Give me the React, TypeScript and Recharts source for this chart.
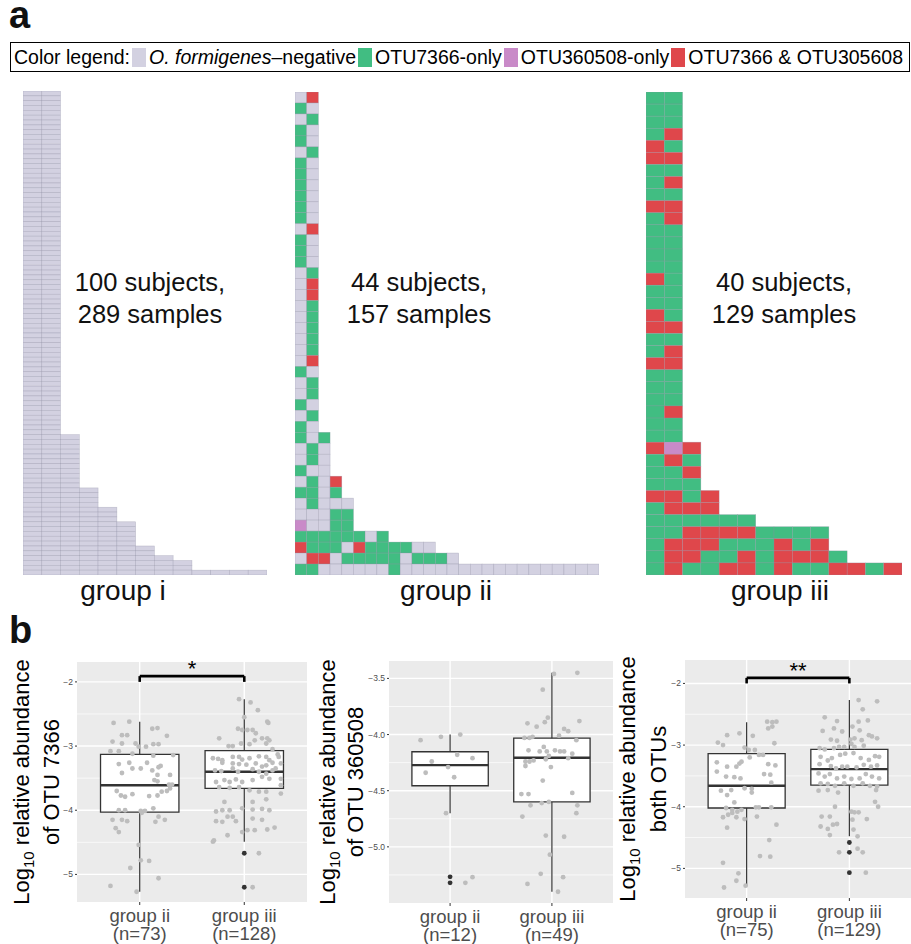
import React from 'react'
import {
  ScatterChart,
  ComposedChart,
  Scatter,
  XAxis,
  YAxis,
  CartesianGrid,
  ReferenceArea,
  ReferenceLine,
  Label,
} from 'recharts'

const FONT = '"Liberation Sans", Arial, Helvetica, sans-serif'

// ---------- panel a : sample status per subject (rows) and sample (columns)
// N = O. formigenes-negative, G = OTU7366-only, P = OTU360508-only, R = both
const CELL_COLORS: Record<string, string> = { N: '#d3d1e1', G: '#41bd82', P: '#c98ac8', R: '#df474b' }
const LEGEND_KEYS = ['N', 'G', 'P', 'R']
const LEGEND_LABELS = ['O. formigenes–negative', 'OTU7366-only', 'OTU360508-only', 'OTU7366 & OTU305608']

// group i: [samples per subject, number of subjects]
const GROUP_I_COUNTS = [[2, 71], [3, 11], [4, 4], [5, 3], [6, 5], [7, 2], [8, 1], [9, 2], [13, 1]]

const GROUP_II_ROWS = [
  'NR', 'GN', 'NG', 'GN', 'GN', 'NG', 'GN', 'GN', 'GN', 'GN', 'GN', 'GN', 'NR', 'GN', 'GN', 'GN',
  'NG', 'NR', 'NR', 'NG', 'NG', 'NG', 'NG', 'NG', 'NR', 'GN', 'NG', 'NG', 'GN', 'NG', 'GN',
  'GNG', 'NGN', 'NGN', 'GNN', 'NGNR', 'GGNG', 'NGNNN', 'NNNGG', 'PNNGG', 'GGGGGGNG',
  'RGGGNRGGGGNN', 'NRRNGGGGGNGGGN', 'GGNNNNNNGNNNNNNNNNNNNNNNNN',
]

const GROUP_III_ROWS = [
  'GG', 'GG', 'GG', 'GR', 'RG', 'RR', 'GG', 'GR', 'GG', 'RR', 'GR', 'GG', 'GG', 'GG', 'GG',
  'RG', 'GG', 'GG', 'RG', 'RR', 'GG', 'GR', 'RR', 'GG', 'GG', 'GG', 'GR', 'GG', 'GG',
  'RPR', 'GRG', 'GGR', 'GGG', 'RRGR', 'GRRR', 'GGGGGG', 'GGRRRRGGGG', 'GRRRGGGRGR',
  'GRRGGRGRRRG', 'GRGGRRGRGGRRGR',
]

const GROUP_NAMES = ['group i', 'group ii', 'group iii']
const GROUP_SUBJECTS = [100, 44, 40]
const GROUP_SAMPLES = [289, 157, 129]

// ---------- panel b : box statistics [min, q1, median, q3, max] for group ii / group iii
const BOX_1 = [[-5.27, -4.03, -3.61, -3.13, -2.62], [-4.49, -3.66, -3.40, -3.07, -2.27]]
const BOX_2 = [[-4.70, -4.456, -4.272, -4.153, -4.0], [-5.40, -4.60, -4.207, -4.032, -3.45]]
const BOX_3 = [[-5.29, -4.02, -3.66, -3.14, -2.63], [-4.48, -3.65, -3.39, -3.07, -2.27]]

// outliers: [group position, value]
const OUT_1 = [[2, -4.67], [2, -5.20]]
const OUT_2 = [[1, -5.267], [1, -5.32]]
const OUT_3 = [[2, -4.58], [2, -4.74], [2, -5.07]]

// jittered points: [x offset, value]
const P1_II = [
  [-0.25, -2.64], [-0.10, -2.62], [-0.17, -2.83], [-0.12, -2.83], [0.17, -2.72], [0.12, -2.73], [0.26, -2.84],
  [-0.26, -2.93], [-0.17, -2.96], [-0.04, -2.96], [0.13, -2.97], [0.18, -2.97], [-0.01, -3.01], [0.06, -3.01],
  [-0.28, -3.08], [-0.20, -3.08], [-0.07, -3.12], [0.32, -3.14], [0.13, -3.15], [-0.20, -3.28], [-0.10, -3.26],
  [0.07, -3.26], [0.20, -3.31], [0.18, -3.33], [-0.17, -3.42], [-0.07, -3.35], [0.01, -3.35], [0.12, -3.38],
  [0.17, -3.45], [0.29, -3.45], [0.14, -3.53], [0.17, -3.55], [0.28, -3.60], [0.31, -3.60], [-0.22, -3.70],
  [-0.18, -3.77], [-0.07, -3.75], [-0.14, -3.79], [0.09, -3.78], [0.17, -3.77], [0.26, -3.70], [0.21, -3.71],
  [0.29, -3.66], [-0.20, -4.00], [-0.14, -4.00], [0.01, -4.01], [0.02, -4.04], [0.05, -4.01], [0.13, -3.97],
  [-0.26, -4.15], [-0.17, -4.15], [-0.12, -4.17], [0.15, -4.18], [0.18, -4.10], [0.24, -4.15], [-0.23, -4.28],
  [-0.20, -4.34], [-0.01, -4.54], [0.01, -4.78], [0.09, -4.79], [-0.09, -4.90], [0.18, -5.06], [-0.28, -5.18],
  [-0.03, -5.27],
]
const P1_III = [
  [-0.05, -2.27], [0.06, -2.32], [0.13, -2.44], [0.00, -2.55], [-0.06, -2.73], [0.08, -2.75], [-0.02, -2.75],
  [0.03, -2.75], [0.11, -2.80], [0.22, -2.62], [0.23, -2.64], [0.22, -2.88], [0.24, -2.91], [-0.24, -2.88],
  [-0.15, -3.00], [-0.11, -3.00], [-0.03, -2.96], [0.05, -2.97], [0.10, -2.91], [0.17, -2.88], [0.21, -2.96],
  [0.27, -3.05], [-0.30, -3.19], [-0.25, -3.20], [-0.21, -3.22], [-0.11, -3.17], [-0.05, -3.17], [-0.02, -3.21],
  [0.05, -3.19], [0.14, -3.16], [0.21, -3.17], [0.24, -3.22], [0.32, -3.13], [0.33, -3.17], [-0.21, -3.26],
  [-0.11, -3.27], [-0.05, -3.28], [0.02, -3.29], [0.11, -3.27], [0.17, -3.32], [0.21, -3.30], [0.27, -3.26],
  [0.35, -3.27], [-0.28, -3.38], [-0.22, -3.39], [-0.11, -3.35], [-0.06, -3.40], [0.08, -3.36], [0.14, -3.40],
  [0.21, -3.43], [0.27, -3.38], [0.30, -3.35], [-0.27, -3.56], [-0.19, -3.53], [-0.14, -3.56], [-0.08, -3.52],
  [-0.02, -3.56], [0.08, -3.53], [0.17, -3.48], [0.24, -3.51], [0.35, -3.51], [0.35, -3.61], [-0.24, -3.64],
  [-0.14, -3.65], [-0.05, -3.64], [0.05, -3.69], [0.14, -3.71], [0.21, -3.71], [0.35, -3.74], [0.21, -3.83],
  [-0.19, -3.87], [0.08, -3.87], [-0.21, -4.00], [-0.14, -4.00], [-0.27, -4.02], [-0.02, -3.97], [0.08, -3.99],
  [0.17, -3.98], [0.24, -4.00], [-0.27, -4.17], [-0.21, -4.18], [-0.11, -4.10], [-0.08, -4.17], [0.08, -4.13],
  [0.17, -4.15], [-0.16, -4.10], [-0.29, -4.47], [-0.30, -4.49], [-0.16, -4.39], [-0.02, -4.34], [0.03, -4.31],
  [0.10, -4.31], [0.22, -4.30], [0.29, -4.27], [0.14, -4.67], [0.08, -5.20],
]
const P2_II = [
  [-0.29, -4.05], [-0.09, -4.02], [0.10, -4.00], [-0.18, -4.24], [0.07, -4.18], [0.22, -4.21],
  [-0.24, -4.34], [-0.02, -4.29], [0.04, -4.38], [-0.04, -4.70], [0.15, -5.32], [0.22, -5.27],
]
const P2_III = [
  [0.02, -3.46], [0.25, -3.45], [-0.09, -3.60], [-0.04, -3.85], [-0.07, -3.89], [-0.24, -3.90], [-0.15, -3.93],
  [0.27, -3.88], [0.12, -3.95], [0.16, -3.97], [0.07, -4.01], [-0.27, -4.03], [-0.22, -4.03], [-0.19, -4.02],
  [0.24, -4.05], [-0.23, -4.14], [-0.08, -4.11], [-0.12, -4.15], [-0.05, -4.15], [0.03, -4.14], [0.08, -4.15],
  [0.12, -4.15], [0.20, -4.17], [-0.03, -4.19], [-0.26, -4.24], [-0.22, -4.24], [-0.18, -4.23], [-0.06, -4.22],
  [0.16, -4.21], [-0.26, -4.28], [-0.01, -4.29], [-0.09, -4.41], [-0.30, -4.53], [-0.23, -4.53], [0.20, -4.52],
  [-0.21, -4.63], [-0.10, -4.61], [-0.03, -4.60], [0.25, -4.63], [-0.29, -4.73], [0.24, -4.70], [-0.06, -4.90],
  [0.12, -4.91], [-0.02, -5.07], [-0.11, -5.24], [0.11, -5.27], [-0.24, -5.33], [0.06, -5.40],
]
const P3_II = [
  [0.20, -2.62], [0.25, -2.63], [0.29, -2.62], [0.21, -2.73], [0.25, -2.70], [-0.07, -2.81], [-0.19, -2.84],
  [0.06, -2.85], [-0.28, -2.96], [-0.23, -3.00], [-0.02, -3.04], [0.02, -3.08], [0.08, -3.08], [0.27, -2.97],
  [-0.29, -3.28], [-0.19, -3.35], [-0.07, -3.30], [-0.05, -3.27], [0.03, -3.20], [0.12, -3.16], [0.16, -3.16],
  [0.21, -3.31], [0.28, -3.33], [-0.10, -3.35], [-0.29, -3.43], [-0.20, -3.51], [-0.12, -3.52], [-0.06, -3.54],
  [0.17, -3.47], [0.23, -3.48], [0.24, -3.61], [-0.25, -3.74], [-0.15, -3.73], [-0.02, -3.70], [0.05, -3.71],
  [-0.19, -3.81], [-0.12, -3.93], [0.05, -3.77], [-0.20, -4.02], [-0.14, -4.05], [-0.09, -4.08], [-0.05, -4.05],
  [0.09, -4.01], [0.12, -4.01], [0.24, -4.01], [-0.23, -4.17], [-0.18, -4.13], [-0.14, -4.10], [-0.10, -4.17],
  [-0.02, -4.20], [0.10, -4.16], [-0.19, -4.34], [0.29, -4.29], [0.22, -4.54], [0.13, -4.80], [0.23, -4.81],
  [-0.23, -4.91], [-0.08, -5.08], [-0.10, -5.20], [-0.01, -5.28], [-0.22, -5.31],
]
const P3_III = [
  [0.09, -2.27], [0.27, -2.29], [0.13, -2.42], [-0.24, -2.55], [-0.12, -2.61], [0.09, -2.62], [0.18, -2.60],
  [-0.26, -2.77], [-0.15, -2.73], [-0.07, -2.78], [0.03, -2.70], [0.10, -2.76], [0.19, -2.84], [0.22, -2.86],
  [0.27, -2.89], [-0.18, -2.91], [-0.12, -2.93], [0.01, -2.91], [0.05, -2.89], [0.12, -2.92], [-0.29, -3.05],
  [-0.24, -3.07], [-0.15, -3.05], [-0.10, -3.03], [-0.05, -3.03], [0.02, -2.98], [0.05, -3.03], [0.14, -3.01],
  [-0.29, -3.31], [-0.28, -3.19], [-0.21, -3.25], [-0.17, -3.21], [-0.09, -3.16], [-0.04, -3.14], [0.04, -3.13],
  [0.11, -3.21], [0.19, -3.24], [0.25, -3.18], [0.29, -3.19], [-0.18, -3.34], [-0.13, -3.38], [-0.07, -3.35],
  [-0.02, -3.35], [0.07, -3.36], [0.14, -3.32], [0.21, -3.35], [0.27, -3.33], [-0.30, -3.46], [-0.24, -3.51],
  [-0.19, -3.47], [-0.12, -3.54], [-0.05, -3.51], [0.02, -3.55], [0.10, -3.54], [0.16, -3.47], [0.22, -3.51],
  [0.29, -3.54], [-0.28, -3.62], [-0.21, -3.63], [-0.14, -3.66], [-0.05, -3.62], [0.04, -3.66], [0.13, -3.62],
  [0.20, -3.66], [0.27, -3.67], [-0.30, -3.74], [-0.21, -3.73], [-0.11, -3.77], [0.26, -3.73], [0.25, -3.92],
  [0.28, -4.00], [-0.14, -4.00], [-0.27, -4.16], [-0.19, -4.16], [0.02, -4.08], [0.05, -4.09], [0.09, -4.09],
  [0.17, -4.20], [0.03, -4.21], [-0.28, -4.32], [-0.21, -4.36], [-0.16, -4.29], [-0.12, -4.28], [-0.19, -4.46],
  [0.08, -4.48], [-0.10, -4.74], [0.08, -4.68], [0.13, -4.74], [0.16, -5.07], [0.04, -4.37],
]

const PANELS = [
  {
    left: 0, width: 310, yWidth: 77, top: 22, right: 3, xHeight: 42,
    domain: [-5.43, -1.69], major: [-2, -3, -4, -5], minor: [-2.5, -3.5, -4.5], decimals: 0,
    box: BOX_1, points: [P1_II, P1_III], outliers: OUT_1, stars: '*',
    title2: 'of OTU 7366', t1: 29, t2: 59,
    xLabels: [['group ii', '(n=73)'], ['group iii', '(n=128)']],
  },
  {
    left: 300, width: 315, yWidth: 89, top: 21, right: 2, xHeight: 41,
    domain: [-5.5, -3.345], major: [-3.5, -4, -4.5, -5], minor: [-3.75, -4.25, -4.75, -5.25], decimals: 1,
    box: BOX_2, points: [P2_II, P2_III], outliers: OUT_2, stars: '',
    title2: 'of OTU 360508', t1: 35, t2: 63,
    xLabels: [['group ii', '(n=12)'], ['group iii', '(n=49)']],
  },
  {
    left: 600, width: 311, yWidth: 85, top: 20, right: 0, xHeight: 46,
    domain: [-5.48, -1.62], major: [-2, -3, -4, -5], minor: [-2.5, -3.5, -4.5], decimals: 0,
    box: BOX_3, points: [P3_II, P3_III], outliers: OUT_3, stars: '**',
    title2: 'both OTUs', t1: 35, t2: 66,
    xLabels: [['group ii', '(n=75)'], ['group iii', '(n=129)']],
  },
]

function CellGrid({ rows, width, height }: { rows: string[]; width: number; height: number }) {
  const ncols = Math.max(...rows.map((r) => r.length))
  const nrows = rows.length
  const data = rows.flatMap((r, i) => r.split('').map((s, j) => ({ x: j + 0.5, y: i + 0.5, s })))
  const cw = width / ncols
  const ch = height / nrows
  return (
    <ScatterChart width={width} height={height} margin={{ top: 0, right: 0, bottom: 0, left: 0 }}>
      <XAxis type="number" dataKey="x" domain={[0, ncols]} hide allowDataOverflow />
      <YAxis type="number" dataKey="y" domain={[0, nrows]} reversed hide allowDataOverflow />
      <Scatter
        data={data}
        isAnimationActive={false}
        shape={(p: any) => (
          <rect
            x={p.cx - cw / 2}
            y={p.cy - ch / 2}
            width={cw}
            height={ch}
            fill={CELL_COLORS[p.payload.s]}
            stroke="#8f8da3"
            strokeOpacity={0.45}
            strokeWidth={0.6}
          />
        )}
      />
    </ScatterChart>
  )
}

function YTitle({ viewBox, second, t1, t2 }: any) {
  const cy = viewBox.y + viewBox.height / 2
  const x0 = viewBox.x
  return (
    <g fill="#000" fontSize={22}>
      <text transform={`translate(${x0 + t1},${cy}) rotate(-90)`} textAnchor="middle">
        Log<tspan fontSize={15} dy={5}>10</tspan>
        <tspan dy={-5}> relative abundance</tspan>
      </text>
      <text transform={`translate(${x0 + t2},${cy}) rotate(-90)`} textAnchor="middle">
        {second}
      </text>
    </g>
  )
}

function BoxPanel({ cfg }: { cfg: (typeof PANELS)[number] }) {
  const fmt = (v: number) => v.toFixed(cfg.decimals).replace('-', '−')
  const pts = cfg.points.map((g, gi) => g.map(([o, v]) => ({ x: gi + 1 + o, y: v })))
  const outs = cfg.outliers.map(([x, y]) => ({ x, y }))
  const dot = (fill: string) => (p: any) => <circle cx={p.cx} cy={p.cy} r={2.4} fill={fill} />
  const bracketY = cfg.major[0] + 0.09
  return (
    <ComposedChart
      width={cfg.width}
      height={944 - 640}
      margin={{ top: cfg.top, right: cfg.right, bottom: 0, left: 0 }}
    >
      <CartesianGrid
        fill="#ebebeb"
        fillOpacity={1}
        stroke="#ffffff"
        strokeWidth={1.4}
        horizontalValues={cfg.major}
        verticalValues={[1, 2]}
      />
      <CartesianGrid stroke="#ffffff" strokeWidth={0.7} vertical={false} horizontalValues={cfg.minor} />
      <XAxis
        type="number"
        dataKey="x"
        domain={[0.4, 2.6]}
        ticks={[1, 2]}
        interval={0}
        allowDataOverflow
        axisLine={false}
        tickLine={{ stroke: '#333', strokeWidth: 1 }}
        tickSize={3}
        tickMargin={2}
        height={cfg.xHeight}
        tick={(p: any) => {
          const lab = cfg.xLabels[Math.round(p.payload.value) - 1]
          return (
            <g fill="#4d4d4d" fontSize={18.5}>
              <text x={p.x} y={p.y + 15} textAnchor="middle">{lab[0]}</text>
              <text x={p.x} y={p.y + 33} textAnchor="middle">{lab[1]}</text>
            </g>
          )
        }}
      />
      <YAxis
        type="number"
        dataKey="y"
        domain={cfg.domain}
        ticks={cfg.major}
        interval={0}
        allowDataOverflow
        axisLine={false}
        tickLine={{ stroke: '#333', strokeWidth: 1 }}
        tickSize={2}
        tickMargin={2}
        width={cfg.yWidth}
        tick={{ fontSize: 8.5, fill: '#4d4d4d' }}
        tickFormatter={fmt}
      >
        <Label content={(props: any) => <YTitle viewBox={props.viewBox} second={cfg.title2} t1={cfg.t1} t2={cfg.t2} />} />
      </YAxis>
      {cfg.box.map(([mn, q1, , q3, mx], i) => (
        <ReferenceLine
          key={`wu${i}`}
          segment={[{ x: i + 1, y: q3 }, { x: i + 1, y: mx }]}
          stroke="#333"
          strokeWidth={1.2}
        />
      ))}
      {cfg.box.map(([mn, q1], i) => (
        <ReferenceLine
          key={`wl${i}`}
          segment={[{ x: i + 1, y: q1 }, { x: i + 1, y: mn }]}
          stroke="#333"
          strokeWidth={1.2}
        />
      ))}
      {cfg.box.map(([, q1, , q3], i) => (
        <ReferenceArea
          key={`b${i}`}
          x1={i + 1 - 0.375}
          x2={i + 1 + 0.375}
          y1={q1}
          y2={q3}
          fill="#ffffff"
          fillOpacity={1}
          stroke="#333"
          strokeWidth={1.3}
        />
      ))}
      {cfg.box.map(([, , med], i) => (
        <ReferenceLine
          key={`m${i}`}
          segment={[{ x: i + 1 - 0.375, y: med }, { x: i + 1 + 0.375, y: med }]}
          stroke="#333"
          strokeWidth={2.4}
        />
      ))}
      <Scatter data={outs} isAnimationActive={false} shape={dot('#333333')} />
      <Scatter data={pts[0]} isAnimationActive={false} shape={dot('#bdbdbd')} />
      <Scatter data={pts[1]} isAnimationActive={false} shape={dot('#bdbdbd')} />
      {cfg.stars && (
        <ReferenceLine
          segment={[{ x: 1, y: bracketY }, { x: 2, y: bracketY }]}
          stroke="#000"
          strokeWidth={2.6}
          label={{ value: cfg.stars, position: 'top', offset: 0, fontSize: 22, fill: '#000' }}
        />
      )}
      {cfg.stars && (
        <ReferenceLine segment={[{ x: 1, y: bracketY }, { x: 1, y: cfg.major[0] }]} stroke="#000" strokeWidth={2.6} />
      )}
      {cfg.stars && (
        <ReferenceLine segment={[{ x: 2, y: bracketY }, { x: 2, y: cfg.major[0] }]} stroke="#000" strokeWidth={2.6} />
      )}
    </ComposedChart>
  )
}

const abs = (left: number, top: number, extra: React.CSSProperties = {}): React.CSSProperties => ({
  position: 'absolute',
  left,
  top,
  ...extra,
})

export default function App() {
  const groupIRows = GROUP_I_COUNTS.flatMap(([n, k]) => Array.from({ length: k }, () => 'N'.repeat(n)))
  const grids = [
    { rows: groupIRows, left: 23, top: 91, width: 244, height: 484 },
    { rows: GROUP_II_ROWS, left: 295, top: 92, width: 304, height: 483 },
    { rows: GROUP_III_ROWS, left: 646, top: 92, width: 256, height: 483 },
  ]
  const textCenters = [150, 419, 784]
  const labelCenters = [123, 446, 780]

  return (
    <div
      style={{
        position: 'absolute',
        left: 0,
        top: 0,
        width: 911,
        height: 944,
        overflow: 'hidden',
        background: '#fff',
        fontFamily: FONT,
        color: '#111',
      }}
    >
      <div style={abs(9, 0, { fontSize: 38, fontWeight: 700, lineHeight: '30px' })}>a</div>
      <div style={abs(9, 615, { fontSize: 38, fontWeight: 700, lineHeight: '30px' })}>b</div>

      <div
        style={abs(10, 42, {
          width: 898,
          height: 28,
          border: '1.5px solid #000',
          display: 'flex',
          alignItems: 'center',
          fontSize: 19.5,
          whiteSpace: 'nowrap',
          overflow: 'hidden',
          color: '#000',
        })}
      >
        <span style={{ marginLeft: 3 }}>Color legend:</span>
        {LEGEND_KEYS.map((k, i) => (
          <React.Fragment key={k}>
            <span
              style={{
                display: 'inline-block',
                width: 14,
                height: 19,
                background: CELL_COLORS[k],
                margin: '0 3px 0 2px',
              }}
            />
            <span>
              {LEGEND_LABELS[i].startsWith('O. ') ? (
                <>
                  <i>O. formigenes</i>
                  {LEGEND_LABELS[i].slice('O. formigenes'.length)}
                </>
              ) : (
                LEGEND_LABELS[i]
              )}
            </span>
          </React.Fragment>
        ))}
      </div>

      {grids.map((g, i) => (
        <div key={i} style={abs(g.left, g.top)}>
          <CellGrid rows={g.rows} width={g.width} height={g.height} />
        </div>
      ))}

      {GROUP_NAMES.map((name, i) => (
        <React.Fragment key={name}>
          <div
            style={abs(textCenters[i] - 110, 266, {
              width: 220,
              textAlign: 'center',
              fontSize: 25.5,
              lineHeight: '32px',
            })}
          >
            {GROUP_SUBJECTS[i]} subjects,
            <br />
            {GROUP_SAMPLES[i]} samples
          </div>
          <div
            style={abs(labelCenters[i] - 100, 577, {
              width: 200,
              textAlign: 'center',
              fontSize: 28,
              lineHeight: '28px',
            })}
          >
            {name}
          </div>
        </React.Fragment>
      ))}

      {PANELS.map((cfg, i) => (
        <div key={i} style={abs(cfg.left, 640)}>
          <BoxPanel cfg={cfg} />
        </div>
      ))}
    </div>
  )
}
